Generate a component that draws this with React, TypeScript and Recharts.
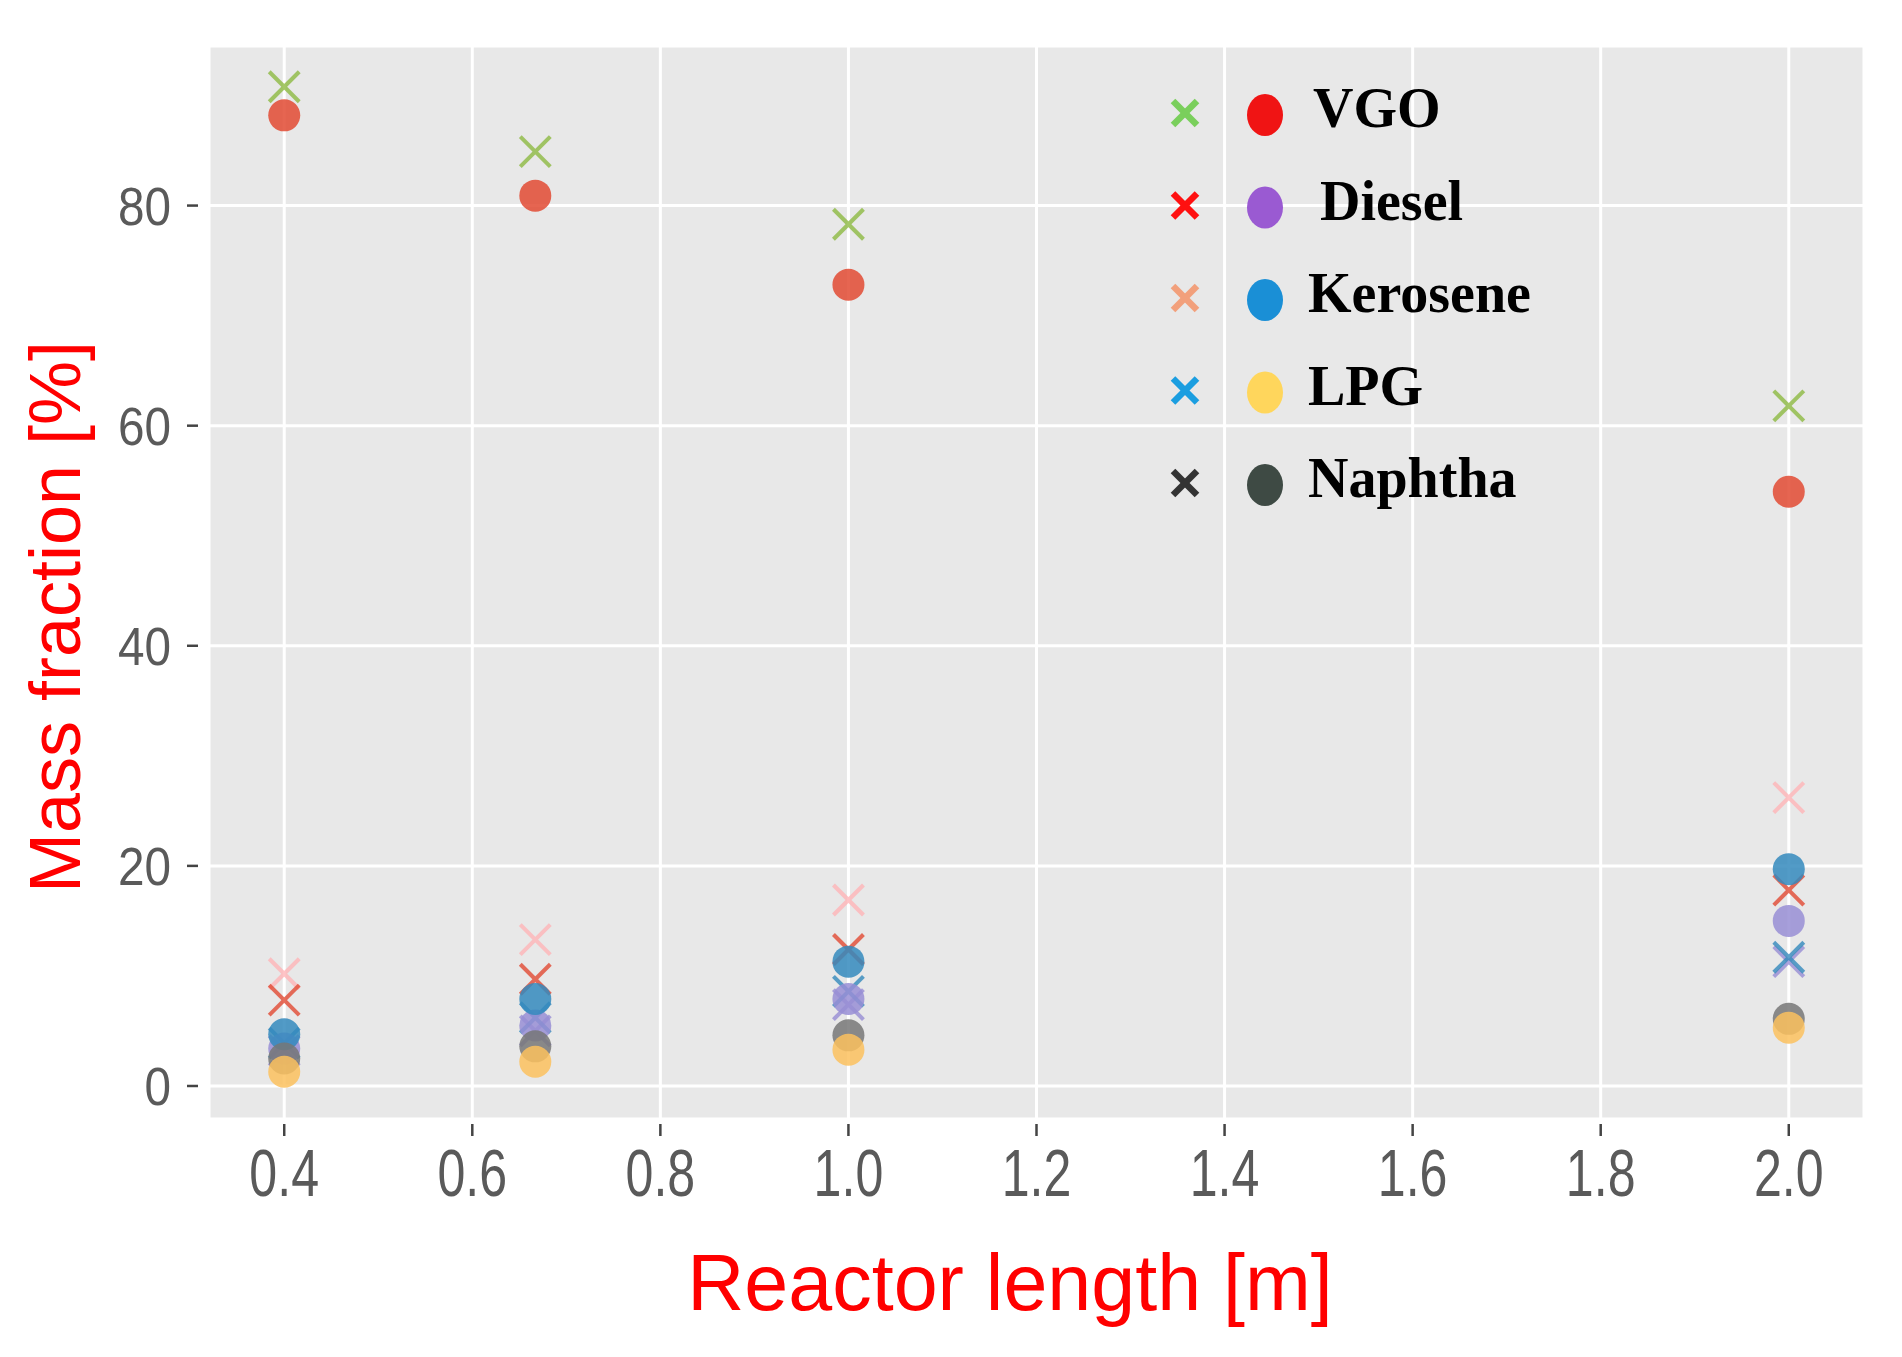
import React from "react";
import {
  ScatterChart,
  Scatter,
  XAxis,
  YAxis,
  CartesianGrid,
  Legend,
  Label,
} from "recharts";

// reactor length [m]
const reactorLength = [0.4, 0.667, 1.0, 2.0];

// model (x markers), mass fraction [%]
const vgoModel = [90.8, 84.9, 78.3, 61.8];
const keroseneModel = [10.2, 13.3, 16.9, 26.2];
const dieselModel = [7.8, 9.7, 12.4, 17.8];
const naphthaModel = [3.2, 5.0, 7.4, 11.3];
const lpgModel = [3.9, 6.2, 8.6, 11.7];

// experiment (circles), mass fraction [%]
const vgoExp = [88.2, 80.9, 72.8, 54.0];
const dieselExp = [3.4, 5.5, 7.9, 15.0];
const keroseneExp = [4.7, 7.9, 11.3, 19.7];
const naphthaExp = [2.5, 3.6, 4.6, 6.1];
const lpgExp = [1.3, 2.2, 3.3, 5.3];

const xTicks = [0.4, 0.6, 0.8, 1.0, 1.2, 1.4, 1.6, 1.8, 2.0];
const yTicks = [0, 20, 40, 60, 80];

const legendNames = ["VGO", "Diesel", "Kerosene", "LPG", "Naphtha"];
const legendCrossColors = ["#7acf5c", "#ff1010", "#f2a07c", "#1b9ee0", "#333333"];
const legendDotColors = ["#f01414", "#9a5ad2", "#1a8fd6", "#ffd65c", "#3e4a44"];

const toPoints = (vals: number[]) =>
  reactorLength.map((x, i) => ({ x, y: vals[i] }));

const crossShape = (color: string) => (props: any) => {
  const { cx, cy } = props;
  const s = 15;
  return (
    <g opacity={0.8}>
      <line x1={cx - s} y1={cy - s} x2={cx + s} y2={cy + s} stroke={color} strokeWidth={4} />
      <line x1={cx - s} y1={cy + s} x2={cx + s} y2={cy - s} stroke={color} strokeWidth={4} />
    </g>
  );
};

const dotShape = (color: string) => (props: any) => {
  const { cx, cy } = props;
  return <circle cx={cx} cy={cy} r={16} fill={color} fillOpacity={0.85} />;
};

const YTick = (props: any) => {
  const { x, y, payload } = props;
  return (
    <g>
      <line x1={x - 22} x2={x - 11} y1={y} y2={y} stroke="#444" strokeWidth={2.5} />
      <text
        transform={`translate(${x - 38},${y}) scale(0.9,1)`}
        textAnchor="end"
        dy="0.36em"
        fontSize={53}
        fontFamily="Liberation Sans, Arial, sans-serif"
        fill="#5a5a5a"
      >
        {payload.value}
      </text>
    </g>
  );
};

const XTick = (props: any) => {
  const { x, y, payload } = props;
  return (
    <g>
      <line x1={x} x2={x} y1={y + 5} y2={y + 17} stroke="#444" strokeWidth={2.5} />
      <text
        transform={`translate(${x},${y + 77}) scale(0.76,1)`}
        textAnchor="middle"
        fontSize={66}
        fontFamily="Liberation Sans, Arial, sans-serif"
        fill="#5a5a5a"
      >
        {payload.value.toFixed(1)}
      </text>
    </g>
  );
};

const LEG_LEFT = 1144;
const LEG_TOP = 50;

const LegendBox = () => (
  <svg width={430} height={480}>
    {legendNames.map((name, i) => {
      const cy = 113 + i * 92.5 - LEG_TOP;
      const xx = 1185 - LEG_LEFT;
      const dx = 1265 - LEG_LEFT;
      const s = 12;
      return (
        <g key={name}>
          <line x1={xx - s} y1={cy - s} x2={xx + s} y2={cy + s} stroke={legendCrossColors[i]} strokeWidth={6.5} />
          <line x1={xx - s} y1={cy + s} x2={xx + s} y2={cy - s} stroke={legendCrossColors[i]} strokeWidth={6.5} />
          <ellipse cx={dx} cy={cy + 2} rx={18} ry={21} fill={legendDotColors[i]} />
          <text
            x={(i === 1 ? 1320 : i === 0 ? 1313 : 1308) - LEG_LEFT}
            y={cy + 14}
            fontSize={56}
            fontWeight="bold"
            fontFamily="Liberation Serif, Times New Roman, serif"
            fill="#000"
          >
            {name}
          </text>
        </g>
      );
    })}
  </svg>
);

export default function App() {
  return (
    <div style={{ position: "absolute", left: 0, top: 0, width: 1902, height: 1357, background: "#fff" }}>
      <ScatterChart
        width={1902}
        height={1357}
        margin={{ top: 46, right: 38, bottom: 0, left: 0 }}
      >
        <CartesianGrid fill="#e8e8e8" stroke="#ffffff" strokeWidth={3} />
        <XAxis
          type="number"
          dataKey="x"
          domain={[0.32, 2.08]}
          ticks={xTicks}
          allowDataOverflow
          height={238}
          axisLine={false}
          tickLine={false}
          tickSize={0}
          tickMargin={0}
          tick={<XTick />}
          interval={0}
        >
          <Label
            content={() => (
              <text
                x={1010}
                y={1310}
                textAnchor="middle"
                fontSize={79}
                fontFamily="Liberation Sans, Arial, sans-serif"
                fill="#ff0000"
              >
                Reactor length [m]
              </text>
            )}
          />
        </XAxis>
        <YAxis
          type="number"
          dataKey="y"
          domain={[-3, 94.5]}
          ticks={yTicks}
          allowDataOverflow
          width={209}
          axisLine={false}
          tickLine={false}
          tickSize={0}
          tickMargin={0}
          tick={<YTick />}
          interval={0}
        >
          <Label
            content={() => (
              <text
                transform="translate(80,617) rotate(-90)"
                textAnchor="middle"
                fontSize={72}
                fontFamily="Liberation Sans, Arial, sans-serif"
                fill="#ff0000"
              >
                Mass fraction [%]
              </text>
            )}
          />
        </YAxis>
        <Legend
          layout="vertical"
          align="center"
          verticalAlign="middle"
          content={() => <LegendBox />}
          wrapperStyle={{ position: "absolute", left: LEG_LEFT, top: LEG_TOP, width: 430, height: 480 }}
        />

        <Scatter name="VGO model" data={toPoints(vgoModel)} shape={crossShape("#8EBA42")} isAnimationActive={false} />
        <Scatter name="Kerosene model" data={toPoints(keroseneModel)} shape={crossShape("#FFB5B8")} isAnimationActive={false} />
        <Scatter name="Diesel model" data={toPoints(dieselModel)} shape={crossShape("#E24A33")} isAnimationActive={false} />
        <Scatter name="Naphtha model" data={toPoints(naphthaModel)} shape={crossShape("#988ED5")} isAnimationActive={false} />
        <Scatter name="LPG model" data={toPoints(lpgModel)} shape={crossShape("#348ABD")} isAnimationActive={false} />

        <Scatter name="VGO" data={toPoints(vgoExp)} shape={dotShape("#E24A33")} isAnimationActive={false} />
        <Scatter name="Diesel" data={toPoints(dieselExp)} shape={dotShape("#988ED5")} isAnimationActive={false} />
        <Scatter name="Kerosene" data={toPoints(keroseneExp)} shape={dotShape("#348ABD")} isAnimationActive={false} />
        <Scatter name="Naphtha" data={toPoints(naphthaExp)} shape={dotShape("#777777")} isAnimationActive={false} />
        <Scatter name="LPG" data={toPoints(lpgExp)} shape={dotShape("#FBC15E")} isAnimationActive={false} />
      </ScatterChart>
    </div>
  );
}
